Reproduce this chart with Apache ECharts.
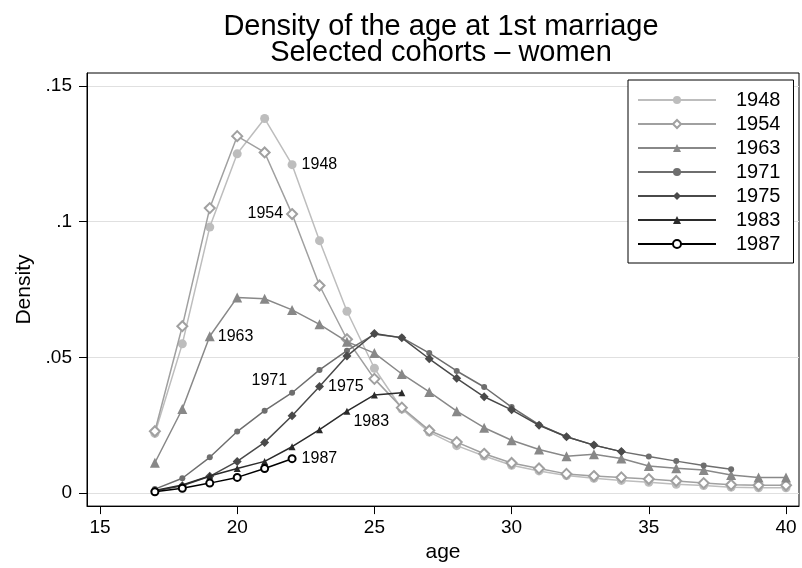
<!DOCTYPE html>
<html>
<head>
<meta charset="utf-8">
<script src="https://cdn.jsdelivr.net/npm/echarts@6/dist/echarts.min.js"></script>
<style>html,body{margin:0;padding:0;background:#fff}#c{width:802px;height:568px}</style>
</head>
<body>
<div id="c"></div>
<script>
const ages = [17,18,19,20,21,22,23,24,25,26,27,28,29,30,31,32,33,34,35,36,37,38,39,40];
const cohorts = ['1948','1954','1963','1971','1975','1983','1987'];
const s1948 = [0.022,0.055,0.098,0.125,0.138,0.121,0.093,0.067,0.046,0.031,0.0225,0.0175,0.0137,0.0103,0.0082,0.0065,0.0055,0.0047,0.0040,0.0033,0.0028,0.0022,0.0020,0.0020];
const s1954 = [0.0228,0.0615,0.105,0.1315,0.1255,0.1028,0.0765,0.0567,0.0421,0.0315,0.0231,0.0188,0.0145,0.0111,0.0091,0.0071,0.0063,0.0058,0.0052,0.0045,0.0037,0.0031,0.0029,0.0029];
const s1963 = [0.0112,0.031,0.0578,0.0721,0.0716,0.0675,0.0622,0.0558,0.0516,0.0439,0.0373,0.0302,0.0241,0.0195,0.0161,0.0136,0.0143,0.0128,0.0100,0.0092,0.0085,0.0067,0.0058,0.0058];
const s1971 = [0.0015,0.0055,0.0132,0.0227,0.0304,0.0370,0.0454,0.0525,0.0585,0.0573,0.0516,0.0450,0.0391,0.0317,0.0252,0.0208,0.0177,0.0153,0.0135,0.0118,0.0102,0.0088];
const s1975 = [0.0008,0.0027,0.0062,0.0117,0.0187,0.0285,0.0393,0.0505,0.0588,0.0572,0.0495,0.0423,0.0355,0.0307,0.0250,0.0208,0.0177,0.0153];
const s1983 = [0.0010,0.0030,0.0063,0.0091,0.0117,0.0171,0.0234,0.0302,0.0362,0.0370];
const s1987 = [0.0005,0.0018,0.0037,0.0058,0.0091,0.0127];
const xTicks = [15,20,25,30,35,40];
const yTicks = [0,0.05,0.1,0.15];
const titleLines = ['Density of the age at 1st marriage', 'Selected cohorts \u2013 women'];

const values = [s1948,s1954,s1963,s1971,s1975,s1983,s1987];
const FONT = '"Liberation Sans", Arial, Helvetica, sans-serif';
const styles = [
  {color:'#bdbdbd', symbol:'circle', size:9},
  {color:'#a0a0a0', symbol:'emptyDiamond', size:10},
  {color:'#888888', symbol:'triangle', size:10},
  {color:'#6e6e6e', symbol:'circle', size:6},
  {color:'#4a4a4a', symbol:'diamond', size:9},
  {color:'#2b2b2b', symbol:'triangle', size:7},
  {color:'#000000', symbol:'emptyCircle', size:7}
];
// marker label placement: age at which the cohort label is drawn
const labelAt = [
  {age:22, position:'right', distance:5, offset:[0,0]},
  {age:22, position:'left', distance:3, offset:[0,0]},
  {age:19, position:'right', distance:3, offset:[0,0]},
  {age:22, position:'left', distance:2, offset:[0,-12]},
  {age:23, position:'right', distance:4, offset:[0,0]},
  {age:24, position:'right', distance:3, offset:[0,10]},
  {age:22, position:'right', distance:5, offset:[0,0]}
];

const series = cohorts.map((name, k) => {
  const st = styles[k], lb = labelAt[k];
  const data = values[k].map((v, i) => {
    const item = {value: [ages[i], v]};
    if (ages[i] === lb.age) {
      item.label = {show:true, position:lb.position, distance:lb.distance, offset:lb.offset,
        formatter:name, fontSize:16, color:'#000', fontFamily:FONT};
    }
    return item;
  });
  return {
    name, type:'line', data, symbol:st.symbol, symbolSize:st.size, showAllSymbol:true,
    color:st.color,
    lineStyle:{color:st.color, width:1.5},
    itemStyle:{color:st.color, borderColor:st.color, borderWidth: st.symbol.indexOf('empty')===0 ? 1.5 : 0},
    label:{show:false},
    emphasis:{disabled:true}, animation:false, z: 2 + k
  };
});

const chart = echarts.init(document.getElementById('c'), null, {renderer:'canvas'});
chart.setOption({
  backgroundColor:'#fff',
  animation:false,
  textStyle:{fontFamily:FONT},
  grid:{left:87, right:3, top:73, bottom:60, show:true, borderColor:'#000', borderWidth:1, backgroundColor:'#fff', containLabel:false},
  graphic:[
    {type:'text', x:441, y:27, style:{text:titleLines[0], fontSize:29, fontFamily:FONT, fill:'#000', textAlign:'center', textVerticalAlign:'middle'}},
    {type:'text', x:441, y:53, style:{text:titleLines[1], fontSize:29, fontFamily:FONT, fill:'#000', textAlign:'center', textVerticalAlign:'middle'}}
  ],
  xAxis:{
    type:'value', min:14.526, max:40.474,
    name:'age', nameLocation:'middle', nameGap:32, nameTextStyle:{fontSize:21, color:'#000', fontFamily:FONT},
    axisLine:{show:true, onZero:false, lineStyle:{color:'#000', width:1}},
    axisTick:{show:true, length:8, customValues:xTicks, lineStyle:{color:'#000'}},
    axisLabel:{customValues:xTicks, fontSize:19, color:'#000', margin:12, fontFamily:FONT},
    splitLine:{show:false}
  },
  yAxis:{
    type:'value', min:-0.004768, max:0.154768,
    name:'Density', nameLocation:'middle', nameGap:34, nameRotate:90, nameTextStyle:{fontSize:21, color:'#000', fontFamily:FONT},
    axisLine:{show:true, onZero:false, lineStyle:{color:'#000', width:1}},
    axisTick:{show:true, length:8, customValues:yTicks, lineStyle:{color:'#000'}},
    axisLabel:{customValues:yTicks, fontSize:19, color:'#000', margin:15, fontFamily:FONT,
      formatter: v => (Math.abs(v) < 1e-9 ? '0' : String(+v.toFixed(4)).replace(/^0/, ''))},
    splitLine:{show:true, lineStyle:{color:'#e0e0e0', width:1}}
  },
  legend:{
    orient:'vertical', left:628, top:80, data:cohorts,
    itemWidth:78, itemHeight:10, itemGap:4,
    padding:[10,13,9,9],
    backgroundColor:'#fff', borderColor:'#000', borderWidth:1,
    textStyle:{fontSize:20, color:'#000', fontFamily:FONT, lineHeight:20, padding:[0,0,0,15]},
    selectedMode:false, z:20
  },
  series
});
</script>
</body>
</html>
